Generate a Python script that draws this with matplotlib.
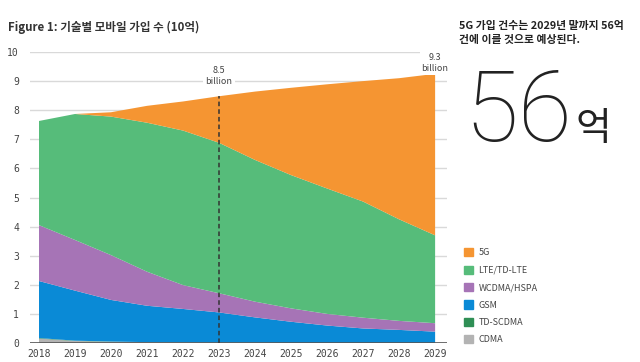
import matplotlib.pyplot as plt
from matplotlib.patches import Patch
import numpy as np

plt.rcParams['font.family'] = ['Noto Sans CJK KR', 'DejaVu Sans']

years = [2018, 2019, 2020, 2021, 2022, 2023, 2024, 2025, 2026, 2027, 2028, 2029]

# 10억 단위
cdma = [0.15, 0.07, 0.04, 0.03, 0.02, 0.01, 0.01, 0, 0, 0, 0, 0]
td_scdma = [0.02, 0.01, 0.01, 0, 0, 0, 0, 0, 0, 0, 0, 0]
gsm = [1.96, 1.72, 1.43, 1.25, 1.15, 1.04, 0.87, 0.73, 0.60, 0.50, 0.45, 0.39]
wcdma = [1.92, 1.74, 1.54, 1.17, 0.82, 0.66, 0.54, 0.46, 0.40, 0.37, 0.31, 0.29]
lte = [3.58, 4.33, 4.76, 5.12, 5.31, 5.17, 4.87, 4.58, 4.31, 3.99, 3.49, 3.02]
nr5g = [0, 0, 0.15, 0.58, 1.00, 1.60, 2.35, 3.00, 3.58, 4.14, 4.85, 5.55]

labels = ['CDMA', 'TD-SCDMA', 'GSM', 'WCDMA/HSPA', 'LTE/TD-LTE', '5G']
colors = ['#b3b3b3', '#2f8f55', '#0a8ad6', '#a674b6', '#56bc7a', '#f59532']

fig = plt.figure(figsize=(6.4, 3.62), dpi=100)
ax = fig.add_axes([30 / 640, 19 / 362, 417 / 640, 291 / 362])

ax.stackplot(years, cdma, td_scdma, gsm, wcdma, lte, nr5g, colors=colors,
             labels=labels, linewidth=0, zorder=2)

total = np.sum([cdma, td_scdma, gsm, wcdma, lte, nr5g], axis=0)

ax.set_xlim(2017.75, 2029.33)
ax.set_ylim(0, 10)
ax.set_yticks(range(0, 11))
ax.set_xticks(years)
ax.grid(axis='y', color='#d9d9d9', linewidth=1, zorder=0)
for s in ax.spines.values():
    s.set_visible(False)
ax.axhline(0, color='#555555', linewidth=1.2, zorder=3)
ax.tick_params(length=0, labelsize=7, colors='#444444', pad=4)
ax.tick_params(axis='y', pad=8)
for t in ax.get_xticklabels() + ax.get_yticklabels():
    t.set_family('DejaVu Sans Mono')

# 2023 점선
i23 = years.index(2023)
ax.vlines(2023, 0, total[i23], colors='#333333', linestyles=(0, (3, 2)),
          linewidth=1.1, zorder=4)
ax.text(2023, 9.17, '8.5\nbillion', ha='center', va='center', fontsize=6.5,
        color='#444444', linespacing=1.3, zorder=5,
        bbox=dict(facecolor='white', edgecolor='none', pad=1.5))
ax.text(2029, 9.62, '9.3\nbillion', ha='center', va='center', fontsize=6.5,
        color='#444444', linespacing=1.3, zorder=5,
        bbox=dict(facecolor='white', edgecolor='none', pad=1.5))

fig.text(8 / 640, 1 - 27 / 362, 'Figure 1: 기술별 모바일 가입 수 (10억)',
         fontsize=8.3, fontweight='bold', color='#333333', va='center')

fig.text(459 / 640, 1 - 33 / 362, '5G 가입 건수는 2029년 말까지 56억\n건에 이를 것으로 예상된다.',
         fontsize=7.8, fontweight='bold', color='#222222', va='center', linespacing=1.5)

fig.text(464 / 640, 1 - 141 / 362, '56', fontsize=71, fontweight='light',
         color='#222222', va='baseline', family=['Roboto', 'DejaVu Sans'])
fig.text(576 / 640, 1 - 140 / 362, '억', fontsize=28, fontweight='light',
         color='#222222', va='baseline')

handles = [Patch(color=c) for c in colors][::-1]
fig.legend(handles, labels[::-1], loc='upper left', bbox_to_anchor=(456 / 640, 1 - 240 / 362),
           frameon=False, fontsize=6.5, handlelength=1.0, handleheight=1.0,
           labelspacing=0.92, handletextpad=0.6, labelcolor='#444444')

fig.savefig('out.png', dpi=100)
